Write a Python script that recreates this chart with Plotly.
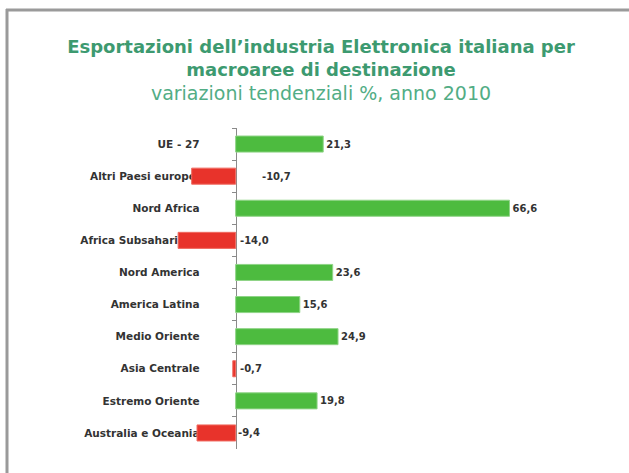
import plotly.graph_objects as go

categories = ["UE - 27", "Altri Paesi europei", "Nord Africa", "Africa Subsahariana",
              "Nord America", "America Latina", "Medio Oriente", "Asia Centrale",
              "Estremo Oriente", "Australia e Oceania"]
values = [21.3, -10.7, 66.6, -14.0, 23.6, 15.6, 24.9, -0.7, 19.8, -9.4]
neg_label_shift = [0, 24, 0, 2, 0, 0, 0, 2, 0, 0]

GREEN = "#4dbb3f"
RED = "#e8332b"
W, H = 629, 473
ML, MR, MT, MB = 174, 85, 128, 24
XMIN, XMAX = -15, 75

def fmt(v):
    return f"{v:.1f}".replace(".", ",")

colors = [GREEN if v >= 0 else RED for v in values]
line_colors = ["#8fd487" if v >= 0 else "#f06a60" for v in values]
texts = ["<b>" + fmt(v) + "</b>" if v >= 0 else "" for v in values]

fig = go.Figure(go.Bar(
    x=values, y=categories, orientation="h",
    marker=dict(color=colors, line=dict(color=line_colors, width=1)),
    text=texts, textposition="outside", cliponaxis=False,
    textfont=dict(family="DejaVu Sans", size=10, color="#333333"),
    hoverinfo="skip",
))

annotations = []
for c, v, s in zip(categories, values, neg_label_shift):
    if v < 0:
        annotations.append(dict(
            x=0, y=c, xref="x", yref="y", text="<b>" + fmt(v) + "</b>",
            showarrow=False, xanchor="left", xshift=s,
            font=dict(family="DejaVu Sans", size=10, color="#333333")))

pw = W - ML - MR
ph = H - MT - MB
def px2paper_x(px):
    return (px - ML) / pw
def px2paper_y(py):
    return (H - MB - py) / ph

shapes = [
    dict(type="line", xref="paper", yref="paper",
         x0=px2paper_x(6), x1=px2paper_x(W + 5), y0=px2paper_y(10), y1=px2paper_y(10),
         line=dict(color="#9a9a9a", width=3)),
    dict(type="line", xref="paper", yref="paper",
         x0=px2paper_x(7), x1=px2paper_x(7), y0=px2paper_y(9), y1=px2paper_y(H + 5),
         line=dict(color="#9a9a9a", width=3)),
]

fig.update_layout(
    width=W, height=H,
    margin=dict(l=ML, r=MR, t=MT, b=MB),
    paper_bgcolor="white", plot_bgcolor="white",
    bargap=0.5,
    showlegend=False,
    title=dict(
        text=("<b>Esportazioni dell’industria Elettronica italiana per<br>"
              "macroaree di destinazione</b><br>"
              "<span style='color:#52ad85;font-size:19px'>variazioni tendenziali %, anno 2010</span>"),
        xref="container", yref="container", x=321 / W, xanchor="center",
        y=1 - 53 / H, yanchor="top",
        font=dict(family="DejaVu Sans", size=18, color="#3d9a70"),
    ),
    xaxis=dict(range=[XMIN, XMAX], visible=False, fixedrange=True),
    yaxis=dict(
        autorange="reversed", type="category",
        anchor="free", position=(-XMIN) / (XMAX - XMIN),
        showline=True, linecolor="#8a8a8a", linewidth=1,
        ticks="outside", ticklen=4, tickcolor="#8a8a8a", tickson="boundaries",
        ticklabelstandoff=34,
        tickfont=dict(family="DejaVu Sans", size=10.5, color="#333333"),
        tickprefix="<b>", ticksuffix="</b>",
        showgrid=False, zeroline=False, layer="below traces",
    ),
    annotations=annotations,
    shapes=shapes,
)

fig.write_html("out.html")
